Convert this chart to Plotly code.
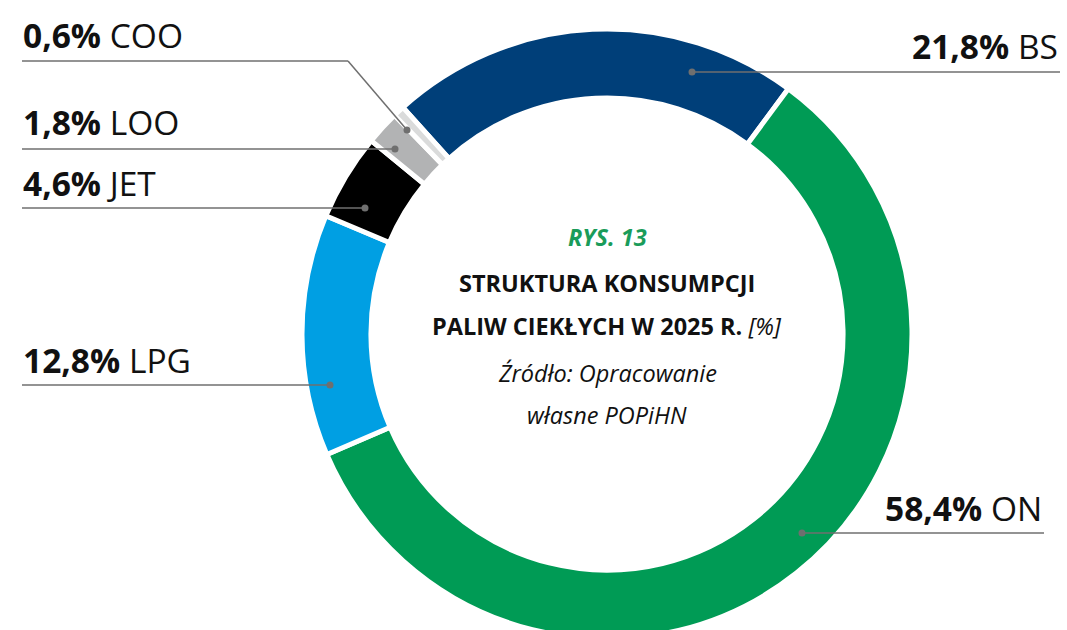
import plotly.graph_objects as go

# ---- data ----
fuels = ["BS", "ON", "LPG", "JET", "LOO", "COO"]
shares = [21.8, 58.4, 12.8, 4.6, 1.8, 0.6]
share_labels = ["21,8%", "58,4%", "12,8%", "4,6%", "1,8%", "0,6%"]
colors = ["#003f79", "#009b55", "#009fe3", "#000000", "#b2b3b4", "#dadbdb"]

title_lines = [
    "RYS. 13",
    "STRUKTURA KONSUMPCJI",
    "PALIW CIEKŁYCH W 2025 R.",
    "Źródło: Opracowanie",
    "własne POPiHN",
]

W, H = 1067, 640
FONT = "Open Sans"


def px(x):
    return x / W


def py(y):
    return 1 - y / H


# donut geometry (pixels)
cx, cy, R = 607, 334, 305

fig = go.Figure()
fig.add_trace(go.Pie(
    labels=fuels,
    values=shares,
    sort=False,
    direction="clockwise",
    rotation=-42,
    hole=0.774,
    marker=dict(colors=colors, line=dict(color="white", width=5)),
    textinfo="none",
    hoverinfo="label+value",
    showlegend=False,
    domain=dict(x=[px(cx - R), px(cx + R)], y=[py(cy + R), py(cy - R)]),
))

# label layout (pixel positions)
label_layout = {
    "BS":  dict(tx=1060, ty=46, ly=72, x0=692, x1=1060, dot=(692, 72), anchor="right"),
    "ON":  dict(tx=1044, ty=508, ly=533, x0=802, x1=1044, dot=(802, 533), anchor="right"),
    "LPG": dict(tx=21, ty=360, ly=385, x0=22, x1=330, dot=(330, 385), anchor="left"),
    "JET": dict(tx=21, ty=183, ly=208, x0=22, x1=365, dot=(365, 208), anchor="left"),
    "LOO": dict(tx=21, ty=122, ly=149, x0=22, x1=395, dot=(395, 149), anchor="left"),
    "COO": dict(tx=21, ty=35, ly=61, x0=22, x1=348, dot=(407, 130), anchor="left", bend=True),
}

line_color = "#6f6f6f"
shapes = []
annotations = []
for name, lab in zip(fuels, share_labels):
    L = label_layout[name]
    annotations.append(dict(
        x=px(L["tx"]), y=py(L["ty"]), xref="paper", yref="paper",
        text=f"<b>{lab}</b> {name}", showarrow=False,
        xanchor=L["anchor"], yanchor="middle",
        font=dict(family=FONT, size=33.5, color="#111111"),
    ))
    shapes.append(dict(type="line", xref="paper", yref="paper",
                       x0=px(L["x0"]), x1=px(L["x1"]), y0=py(L["ly"]), y1=py(L["ly"]),
                       line=dict(color=line_color, width=1.5)))
    if L.get("bend"):
        shapes.append(dict(type="line", xref="paper", yref="paper",
                           x0=px(L["x1"]), y0=py(L["ly"]), x1=px(L["dot"][0]), y1=py(L["dot"][1]),
                           line=dict(color=line_color, width=1.5)))
    dx, dy = L["dot"]
    r = 3.5
    shapes.append(dict(type="circle", xref="paper", yref="paper",
                       x0=px(dx - r), x1=px(dx + r), y0=py(dy + r), y1=py(dy - r),
                       fillcolor=line_color, line=dict(width=0)))

# centre text
center_y = [237, 283, 326, 373, 415]
center_text = [
    f"<i><b>{title_lines[0]}</b></i>",
    f"<b>{title_lines[1]}</b>",
    f"<b>{title_lines[2]}</b> <i>[%]</i>",
    f"<i>{title_lines[3]}</i>",
    f"<i>{title_lines[4]}</i>",
]
center_colors = ["#1a9c5a", "#111111", "#111111", "#111111", "#111111"]
for t, yy, col in zip(center_text, center_y, center_colors):
    annotations.append(dict(
        x=px(cx), y=py(yy), xref="paper", yref="paper", text=t, showarrow=False,
        xanchor="center", yanchor="middle",
        font=dict(family=FONT, size=23.5, color=col),
    ))

fig.update_layout(
    width=W, height=H,
    margin=dict(l=0, r=0, t=0, b=0),
    paper_bgcolor="white", plot_bgcolor="white",
    shapes=shapes, annotations=annotations,
    font=dict(family=FONT),
)

fig.write_html(
    "out.html",
    config={"displayModeBar": False},
    post_script="document.documentElement.style.overflow='hidden';"
                "document.body.style.margin='0';document.body.style.overflow='hidden';",
)
